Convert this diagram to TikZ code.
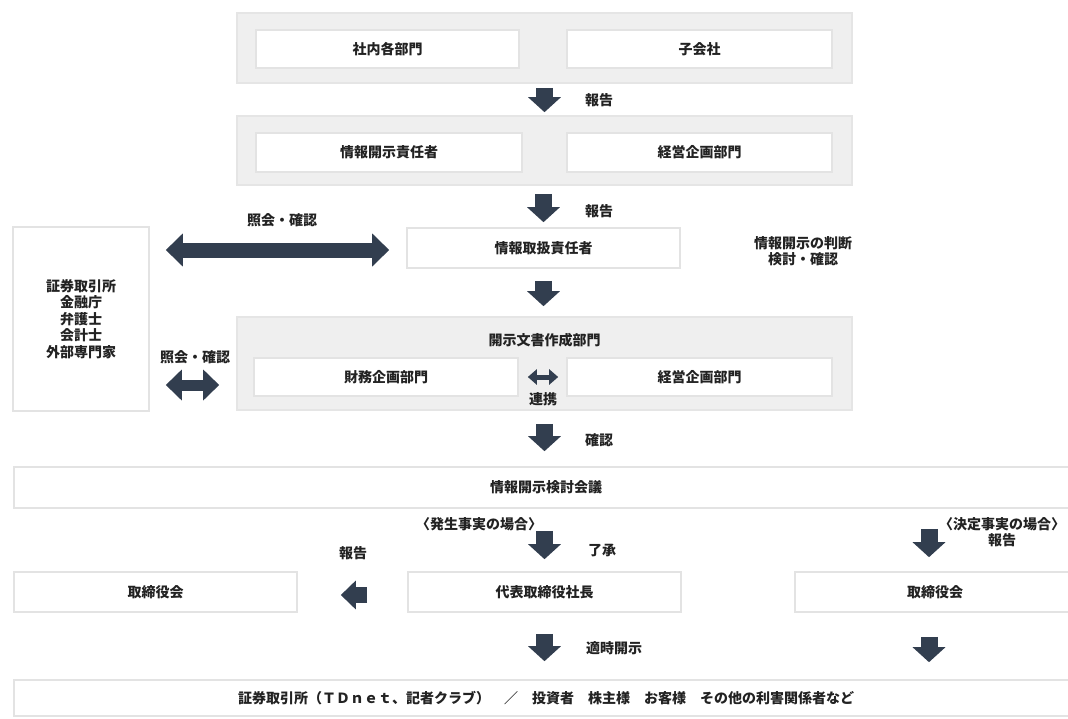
\documentclass[tikz,border=0pt]{standalone}
\usepackage{fontspec}
\setmainfont{Noto Sans CJK JP}
\usetikzlibrary{arrows.meta,calc}
\definecolor{arrowc}{HTML}{323E4F}
\definecolor{grayfill}{HTML}{EFEFEF}
\definecolor{grayline}{HTML}{E5E5E5}
\definecolor{boxline}{HTML}{E3E3E3}
\definecolor{txt}{HTML}{222222}
\begin{document}
\begin{tikzpicture}[x=1pt,y=-1pt,
  every node/.style={font=\fontsize{14}{16.5}\selectfont\bfseries, text=txt, inner sep=0pt},
  wbox/.style={draw=boxline, line width=1.6pt, fill=white, align=center},
  gbox/.style={draw=grayline, line width=1.6pt, fill=grayfill},
  lbl/.style={align=center},
  barrow/.style={draw=arrowc, line width=17pt, -{Triangle[width=32pt,length=15pt]}},
  dbarrow/.style={draw=arrowc, line width=15pt, {Triangle[width=32pt,length=17pt]}-{Triangle[width=32pt,length=17pt]}},
  sbarrow/.style={draw=arrowc, line width=11pt, {Triangle[width=30pt,length=16pt]}-{Triangle[width=30pt,length=16pt]}},
  tbarrow/.style={draw=arrowc, line width=5pt, {Triangle[width=15pt,length=9pt]}-{Triangle[width=15pt,length=9pt]}},
  larrow/.style={draw=arrowc, line width=16pt, -{Triangle[width=28pt,length=15pt]}}
]
\useasboundingbox (0,0) rectangle (1068,718);
\clip (0,0) rectangle (1068,718);

% gray groups
\node[gbox, minimum width=615, minimum height=70] (g1) at (544.5,48) {};
\node[gbox, minimum width=615, minimum height=69] (g2) at (544.5,150.5) {};
\node[gbox, minimum width=615, minimum height=93] (g3) at (544.5,363.5) {};

% boxes
\node[wbox, minimum width=263, minimum height=38] (sha) at (387.5,49) {社内各部門};
\node[wbox, minimum width=265, minimum height=38] (ko) at (699.5,49) {子会社};
\node[wbox, minimum width=266, minimum height=39] (sek) at (389,152.5) {情報開示責任者};
\node[wbox, minimum width=265, minimum height=39] (kei1) at (699.5,152.5) {経営企画部門};
\node[wbox, minimum width=273, minimum height=40] (ir) at (543.5,248) {情報取扱責任者};
\node[wbox, minimum width=136, minimum height=184] (ext) at (81,319) {証券取引所\\金融庁\\弁護士\\会計士\\外部専門家};
\node[lbl] (g3t) at (544.5,340) {開示文書作成部門};
\node[wbox, minimum width=264, minimum height=38] (fin) at (386,377) {財務企画部門};
\node[wbox, minimum width=265, minimum height=38] (kei2) at (699.5,377) {経営企画部門};
\node[wbox, minimum width=1064, minimum height=41] (kaigi) at (546,487.5) {情報開示検討会議};
\node[wbox, minimum width=283, minimum height=40] (tb1) at (155.5,592) {取締役会};
\node[wbox, minimum width=273, minimum height=40] (dai) at (544.5,592) {代表取締役社長};
\node[wbox, minimum width=280, minimum height=40] (tb2) at (935,592) {取締役会};
\node[wbox, minimum width=1064, minimum height=36] (bot) at (546,698) {証券取引所（ＴＤｎｅｔ、記者クラブ）　／　投資者　株主様　お客様　その他の利害関係者など};

% labels
\node[lbl] (l1) at (599,100) {報告};
\node[lbl] (l2) at (599,211) {報告};
\node[lbl] (l3) at (282,220) {照会・確認};
\node[lbl] (l4) at (803,251) {情報開示の判断\\検討・確認};
\node[lbl] (l5) at (195,357) {照会・確認};
\node[lbl] (l6) at (543,399) {連携};
\node[lbl] (l7) at (599,440) {確認};
\node[lbl] (l8) at (479,524) {〈発生事実の場合〉};
\node[lbl] (l9) at (1002,532) {〈決定事実の場合〉\\報告};
\node[lbl] (l10) at (353,553) {報告};
\node[lbl] (l11) at (602,550) {了承};
\node[lbl] (l12) at (614,648) {適時開示};

% arrows
\draw[barrow, shorten <=4pt, shorten >=3pt] (g1.south) -- (g2.north);
\draw[barrow, shorten <=8pt, shorten >=5pt] (ir.north |- g2.south) -- (ir.north);
\draw[barrow, shorten <=12pt, shorten >=10pt] (ir.south) -- (ir.south |- g3.north);
\draw[barrow, shorten <=13pt, shorten >=15pt] (g3.south) -- (g3.south |- kaigi.north);
\draw[barrow, shorten <=22pt, shorten >=12pt] (dai.north |- kaigi.south) -- (dai.north);
\draw[barrow, shorten <=21pt, shorten >=18pt] (dai.south) -- (dai.south |- bot.north);
\draw[barrow, shorten <=20pt, shorten >=14pt] ([xshift=-6pt]tb2.north |- kaigi.south) -- ([xshift=-6pt]tb2.north);
\draw[barrow, shorten <=24pt, shorten >=17pt] ([xshift=-6pt]tb2.south) -- ([xshift=-6pt]tb2.south |- bot.north);
\draw[larrow, shorten <=40pt, shorten >=43pt] ([yshift=-3pt]dai.west) -- ([yshift=-3pt]dai.west -| tb1.east);
\draw[dbarrow, shorten <=16pt, shorten >=17pt] ([yshift=-2pt]ir.west -| ext.east) -- ([yshift=-2pt]ir.west);
\draw[sbarrow, shorten <=16pt, shorten >=17pt] ([yshift=-8pt]fin.west -| ext.east) -- ([yshift=-8pt]fin.west -| g3.west);
\draw[tbarrow, shorten <=9pt, shorten >=8pt] (fin.east) -- (kei2.west);
\end{tikzpicture}
\end{document}
